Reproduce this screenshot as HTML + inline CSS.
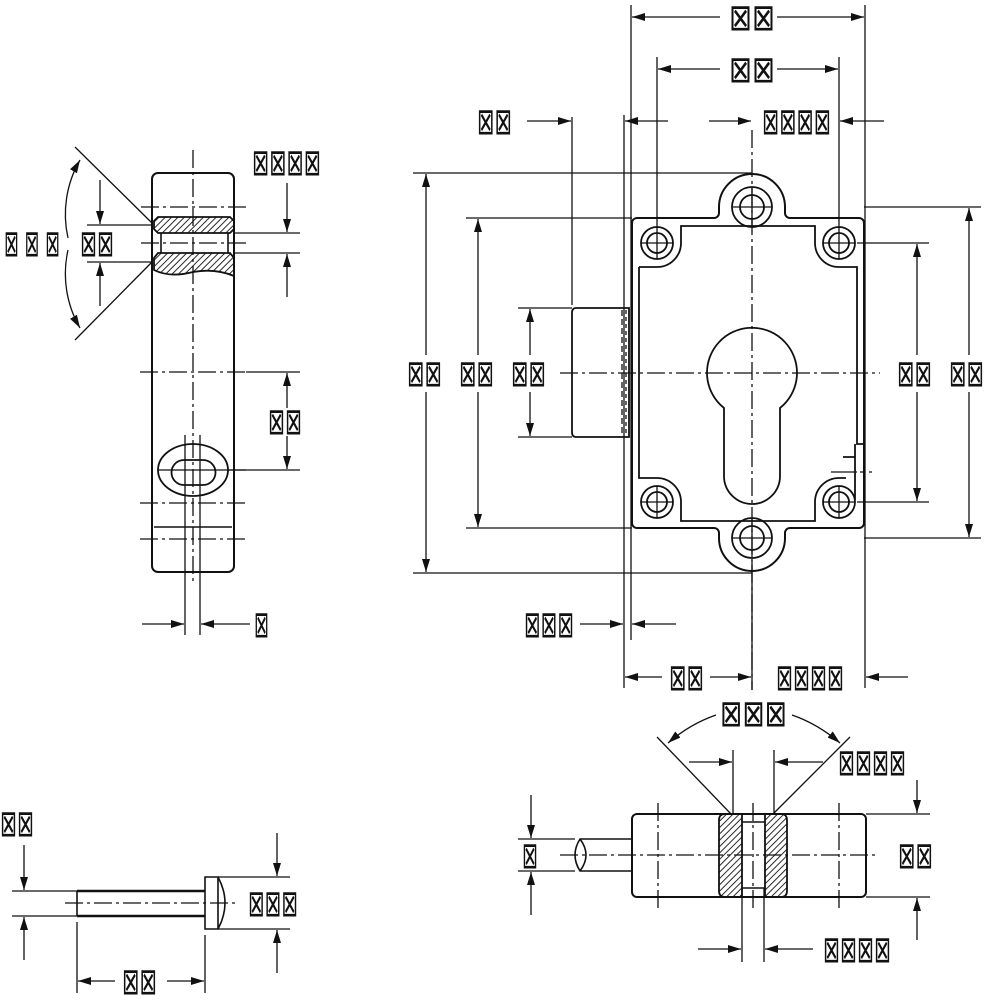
<!DOCTYPE html>
<html><head><meta charset="utf-8"><style>
html,body{margin:0;padding:0;background:#fff}
svg{display:block}
text{font-family:"DejaVu Sans",sans-serif;font-size:37px;fill:#111}
</style></head><body>
<svg width="988" height="1000" viewBox="0 0 988 1000" xmlns="http://www.w3.org/2000/svg">
<defs>
<marker id="a" markerUnits="userSpaceOnUse" markerWidth="14" markerHeight="10" refX="13" refY="4" orient="auto"><path d="M0,0 L13,4 L0,8 z" fill="#111"/></marker>
<pattern id="h" patternUnits="userSpaceOnUse" width="4.5" height="4.5" patternTransform="rotate(45)"><line x1="0" y1="0" x2="0" y2="5" stroke="#111" stroke-width="1.8"/></pattern>
</defs>
<g fill="none" stroke="#111" stroke-width="1.3">
<!-- ===== MAIN PLATE ===== -->
<path stroke-width="2" d="M637,218 H714 A5,5 0 0 0 719,213 V207 A33,33 0 0 1 785,207 V213 A5,5 0 0 0 790,218 H859 A5,5 0 0 1 864,223 V523 A5,5 0 0 1 859,528 H790 A5,5 0 0 0 785,533 V538 A33,33 0 0 1 719,538 V533 A5,5 0 0 0 714,528 H637 A5,5 0 0 1 632,523 V223 A5,5 0 0 1 637,218 Z"/>
<path stroke-width="1.8" d="M639,267 H657 A24,24 0 0 0 681,243 V226 H815 V243 A24,24 0 0 0 839,267 H857 V444 H864 M855,444 V500 M843,457 H855 M639,267 V478 H657 A24,24 0 0 1 681,502 V521 H815 V502 A24,24 0 0 1 839,478 H846"/>
<line x1="831" y1="472" x2="857" y2="472"/><line x1="860" y1="472" x2="878" y2="472" stroke-dasharray="3 6"/>
<g stroke-width="1.8">
<circle cx="752" cy="207" r="20"/><circle cx="752" cy="207" r="12"/>
<circle cx="752" cy="538" r="20"/><circle cx="752" cy="538" r="12"/>
<circle cx="657" cy="243" r="16"/><circle cx="657" cy="243" r="10"/>
<circle cx="839" cy="243" r="16"/><circle cx="839" cy="243" r="10"/>
<circle cx="657" cy="502" r="16"/><circle cx="657" cy="502" r="10"/>
<circle cx="839" cy="502" r="16"/><circle cx="839" cy="502" r="10"/>
<path d="M724,408 A45,45 0 1 1 780,408 V476 A28,28 0 0 1 724,476 Z"/>
<path d="M576,308 H629 V437 H576 Q572,437 572,432 V313 Q572,308 576,308 Z"/>
</g>
<line x1="622" y1="310" x2="622" y2="435" stroke-dasharray="6 3"/><line x1="626" y1="310" x2="626" y2="435" stroke-dasharray="4 3"/>
<path d="M733,207H771M752,188V226M733,538H771M752,519V557M641,243H673M657,227V259M823,243H855M839,227V259M641,502H673M657,486V518M823,502H855M839,486V518"/>
<line x1="752" y1="130" x2="752" y2="690" stroke-dasharray="18 4 3 4"/>
<line x1="560" y1="373" x2="880" y2="373" stroke-dasharray="18 4 3 4"/>
<path d="M631,5V640 M624,115V688 M572,117V305 M865,5V688 M657,57V228 M839,57V228 M752,560V690 M413,173H752 M466,218H632 M864,207H981 M857,243H929 M857,502H929 M466,528H632 M413,573H752 M864,538H981 M518,308H572 M518,437H572"/>
<line x1="720" y1="17" x2="632" y2="17" marker-end="url(#a)"/><line x1="777" y1="17" x2="864" y2="17" marker-end="url(#a)"/>
<line x1="720" y1="69" x2="658" y2="69" marker-end="url(#a)"/><line x1="777" y1="69" x2="838" y2="69" marker-end="url(#a)"/>
<line x1="527" y1="121" x2="571" y2="121" marker-end="url(#a)"/><line x1="668" y1="121" x2="625" y2="121" marker-end="url(#a)"/>
<line x1="709" y1="121" x2="751" y2="121" marker-end="url(#a)"/><line x1="884" y1="121" x2="840" y2="121" marker-end="url(#a)"/>
<line x1="426" y1="355" x2="426" y2="174" marker-end="url(#a)"/><line x1="426" y1="392" x2="426" y2="572" marker-end="url(#a)"/>
<line x1="478" y1="355" x2="478" y2="219" marker-end="url(#a)"/><line x1="478" y1="392" x2="478" y2="527" marker-end="url(#a)"/>
<line x1="530" y1="355" x2="530" y2="309" marker-end="url(#a)"/><line x1="530" y1="392" x2="530" y2="436" marker-end="url(#a)"/>
<line x1="917" y1="355" x2="917" y2="244" marker-end="url(#a)"/><line x1="917" y1="392" x2="917" y2="501" marker-end="url(#a)"/>
<line x1="969" y1="355" x2="969" y2="208" marker-end="url(#a)"/><line x1="969" y1="392" x2="969" y2="537" marker-end="url(#a)"/>
<line x1="580" y1="624" x2="623" y2="624" marker-end="url(#a)"/><line x1="676" y1="624" x2="632" y2="624" marker-end="url(#a)"/>
<line x1="662" y1="677" x2="625" y2="677" marker-end="url(#a)"/><line x1="710" y1="677" x2="751" y2="677" marker-end="url(#a)"/>
<line x1="908" y1="677" x2="866" y2="677" marker-end="url(#a)"/>

<!-- ===== LEFT SIDE VIEW ===== -->
<rect x="152" y="173" width="82" height="399" rx="6" stroke-width="2"/>
<path fill="url(#h)" stroke-width="1.8" d="M158,217 H230 L234,221 V229 L230,233 H158 L154,229 V221 Z"/>
<path fill="url(#h)" stroke-width="1.8" d="M158,253 H230 L234,258 V276 Q215,268 193,272 Q170,278 154,270 V258 Z"/>
<path fill="#fff" stroke="none" d="M156,234H232V252H156Z"/>
<path stroke-width="1.6" d="M161,233V253M228,233V253M154,527H232"/>
<line x1="193" y1="150" x2="193" y2="582" stroke-dasharray="18 4 3 4"/>
<path stroke-dasharray="18 4 3 4" d="M141,207H246M141,243H246M140,372H246M140,503H246M140,539H246"/>
<ellipse cx="193" cy="470" rx="35" ry="26" stroke-width="1.8"/>
<path stroke-width="1.8" d="M184,460H203A12.5,12.5 0 0 1 203,485H184A12.5,12.5 0 0 1 184,460Z"/>
<path d="M185,435V635M200,435V635M158,470H246"/>
<path d="M75,147L152,223M75,340L152,262M87,225H152M87,262H152M234,233H300M234,253H300M246,372H300M228,470H300"/>
<path d="M68,238 A108,108 0 0 1 80,160" marker-end="url(#a)"/><path d="M68,250 A108,108 0 0 0 80,328" marker-end="url(#a)"/>
<line x1="100" y1="180" x2="100" y2="224" marker-end="url(#a)"/><line x1="100" y1="306" x2="100" y2="263" marker-end="url(#a)"/>
<line x1="287" y1="183" x2="287" y2="232" marker-end="url(#a)"/><line x1="287" y1="297" x2="287" y2="254" marker-end="url(#a)"/>
<line x1="287" y1="408" x2="287" y2="373" marker-end="url(#a)"/><line x1="287" y1="436" x2="287" y2="469" marker-end="url(#a)"/>
<line x1="142" y1="624" x2="184" y2="624" marker-end="url(#a)"/><line x1="250" y1="624" x2="201" y2="624" marker-end="url(#a)"/>

<!-- ===== PIN ===== -->
<path stroke-width="2.6" d="M77,891H205M77,916H205"/>
<path stroke-width="1.6" d="M77,891V916M205,877H218V929H205Z M218,877 Q232,903 218,929"/>
<line x1="65" y1="903" x2="237" y2="903" stroke-dasharray="18 4 3 4"/>
<path d="M12,891H77M12,916H77M218,877H290M218,929H290M77,922V993M205,935V993"/>
<line x1="24" y1="845" x2="24" y2="890" marker-end="url(#a)"/><line x1="24" y1="960" x2="24" y2="917" marker-end="url(#a)"/>
<line x1="277" y1="833" x2="277" y2="876" marker-end="url(#a)"/><line x1="277" y1="973" x2="277" y2="930" marker-end="url(#a)"/>
<line x1="115" y1="981" x2="78" y2="981" marker-end="url(#a)"/><line x1="167" y1="981" x2="204" y2="981" marker-end="url(#a)"/>

<!-- ===== BOTTOM RIGHT VIEW ===== -->
<rect x="632" y="814" width="234" height="83" rx="5" stroke-width="2"/>
<path stroke-width="1.6" d="M632,839H580Q570,855 580,871H632M580,839Q592,855 580,871"/>
<path fill="#fff" stroke="none" d="M742,822H765V888H742Z"/>
<path fill="url(#h)" stroke-width="1.8" d="M725,814H742V897H725Q719,897 719,891V820Q719,814 725,814Z"/>
<path fill="url(#h)" stroke-width="1.8" d="M765,814H781Q787,814 787,820V891Q787,897 781,897H765Z"/>
<path stroke-width="1.6" d="M742,822H765M742,888H765"/>
<line x1="560" y1="855" x2="877" y2="855" stroke-dasharray="18 4 3 4"/>
<path stroke-dasharray="18 4 3 4" d="M658,803V908M839,803V908M753,803V908"/>
<path d="M731,814L657,737M773,814L850,737M733,750V814M774,750V814M742,888V962M764,888V962M866,814H930M866,897H930M518,839H575M518,871H575"/>
<path d="M716,715 Q690,724 668,743" marker-end="url(#a)"/><path d="M792,715 Q818,724 840,743" marker-end="url(#a)"/>
<line x1="689" y1="762" x2="732" y2="762" marker-end="url(#a)"/><line x1="823" y1="762" x2="775" y2="762" marker-end="url(#a)"/>
<line x1="698" y1="949" x2="741" y2="949" marker-end="url(#a)"/><line x1="813" y1="949" x2="765" y2="949" marker-end="url(#a)"/>
<line x1="917" y1="780" x2="917" y2="813" marker-end="url(#a)"/><line x1="917" y1="940" x2="917" y2="898" marker-end="url(#a)"/>
<line x1="531" y1="795" x2="531" y2="838" marker-end="url(#a)"/><line x1="531" y1="915" x2="531" y2="872" marker-end="url(#a)"/>
</g>

<!-- ===== LABELS ===== -->
<g transform="translate(0,4)">
<text x="729" y="26" textLength="46" lengthAdjust="spacingAndGlyphs">⊠⊠</text>
<text x="729" y="78" textLength="46" lengthAdjust="spacingAndGlyphs">⊠⊠</text>
<text x="477" y="130" textLength="35" lengthAdjust="spacingAndGlyphs">⊠⊠</text>
<text x="762" y="130" textLength="69" lengthAdjust="spacingAndGlyphs">⊠⊠⊠⊠</text>
<text x="407" y="382" textLength="35" lengthAdjust="spacingAndGlyphs">⊠⊠</text>
<text x="459" y="382" textLength="35" lengthAdjust="spacingAndGlyphs">⊠⊠</text>
<text x="511" y="382" textLength="35" lengthAdjust="spacingAndGlyphs">⊠⊠</text>
<text x="897" y="382" textLength="35" lengthAdjust="spacingAndGlyphs">⊠⊠</text>
<text x="949" y="382" textLength="35" lengthAdjust="spacingAndGlyphs">⊠⊠</text>
<text x="524" y="633" textLength="50" lengthAdjust="spacingAndGlyphs">⊠⊠⊠</text>
<text x="669" y="686" textLength="35" lengthAdjust="spacingAndGlyphs">⊠⊠</text>
<text x="776" y="686" textLength="68" lengthAdjust="spacingAndGlyphs">⊠⊠⊠⊠</text>
<text x="252" y="171" textLength="69" lengthAdjust="spacingAndGlyphs">⊠⊠⊠⊠</text>
<text x="4" y="252" textLength="56" lengthAdjust="spacingAndGlyphs">⊠ ⊠ ⊠</text>
<text x="80" y="252" textLength="34" lengthAdjust="spacingAndGlyphs">⊠⊠</text>
<text x="268" y="430" textLength="34" lengthAdjust="spacingAndGlyphs">⊠⊠</text>
<text x="254" y="633" textLength="15" lengthAdjust="spacingAndGlyphs">⊠</text>
<text x="0" y="832" textLength="34" lengthAdjust="spacingAndGlyphs">⊠⊠</text>
<text x="248" y="912" textLength="50" lengthAdjust="spacingAndGlyphs">⊠⊠⊠</text>
<text x="122" y="990" textLength="35" lengthAdjust="spacingAndGlyphs">⊠⊠</text>
<text x="720" y="722" textLength="67" lengthAdjust="spacingAndGlyphs">⊠⊠⊠</text>
<text x="838" y="771" textLength="68" lengthAdjust="spacingAndGlyphs">⊠⊠⊠⊠</text>
<text x="898" y="864" textLength="35" lengthAdjust="spacingAndGlyphs">⊠⊠</text>
<text x="522" y="864" textLength="16" lengthAdjust="spacingAndGlyphs">⊠</text>
<text x="823" y="958" textLength="68" lengthAdjust="spacingAndGlyphs">⊠⊠⊠⊠</text>
</g>
</svg>
</body></html>
